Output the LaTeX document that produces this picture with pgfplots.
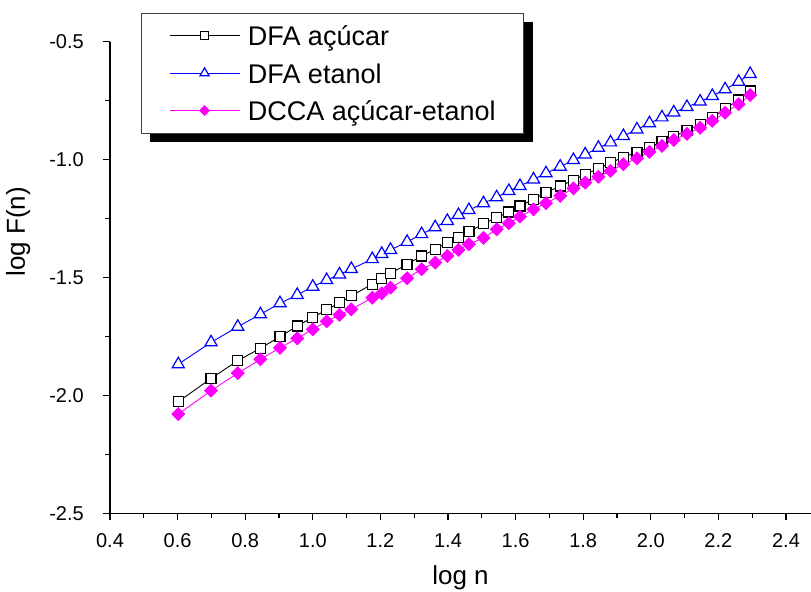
\documentclass[border=0pt]{standalone}
\usepackage{fontspec}
\setmainfont{Liberation Sans}
\usepackage{pgfplots}
\usepackage{pgfplotstable}
\pgfplotsset{compat=1.18}
\pgfdeclarelayer{background}
\pgfsetlayers{background,main}
\definecolor{ogblue}{RGB}{0,0,255}
\definecolor{ogmag}{RGB}{255,0,255}

\pgfplotstableread{
x      dfaa    dfae    dcca
0.602  -2.027  -1.868  -2.079
0.699  -1.928  -1.775  -1.980
0.778  -1.853  -1.709  -1.906
0.845  -1.800  -1.656  -1.847
0.903  -1.751  -1.609  -1.798
0.954  -1.706  -1.574  -1.758
1.000  -1.669  -1.539  -1.720
1.041  -1.637  -1.511  -1.686
1.079  -1.607  -1.487  -1.659
1.114  -1.578  -1.464  -1.635
1.176  -1.528  -1.422  -1.586
1.204  -1.505  -1.400  -1.567
1.230  -1.482  -1.383  -1.543
1.279  -1.444  -1.349  -1.503
1.322  -1.409  -1.316  -1.465
1.362  -1.380  -1.287  -1.437
1.398  -1.352  -1.260  -1.409
1.431  -1.330  -1.235  -1.383
1.462  -1.306  -1.214  -1.359
1.505  -1.272  -1.185  -1.332
1.544  -1.246  -1.160  -1.296
1.580  -1.222  -1.133  -1.270
1.613  -1.197  -1.112  -1.242
1.653  -1.168  -1.084  -1.211
1.690  -1.140  -1.058  -1.185
1.732  -1.112  -1.030  -1.154
1.771  -1.087  -1.002  -1.122
1.806  -1.062  -0.978  -1.098
1.845  -1.039  -0.950  -1.073
1.881  -1.013  -0.927  -1.048
1.919  -0.990  -0.900  -1.020
1.959  -0.969  -0.872  -0.995
1.996  -0.948  -0.846  -0.967
2.033  -0.924  -0.821  -0.942
2.068  -0.901  -0.800  -0.917
2.107  -0.877  -0.777  -0.891
2.146  -0.850  -0.754  -0.865
2.182  -0.821  -0.730  -0.836
2.220  -0.785  -0.702  -0.801
2.260  -0.747  -0.670  -0.765
2.294  -0.709  -0.637  -0.726
}\datatable

\begin{document}
\begin{tikzpicture}
\begin{axis}[
  at={(0,0)}, anchor=south west,
  scale only axis, width=701bp, height=471.6bp,
  xmin=0.4, xmax=2.474, ymin=-2.5, ymax=-0.5,
  axis x line=bottom, axis y line=left,
  axis line style={-, line width=1.3bp, black},
  x axis line style={-}, y axis line style={-},
  xtick={0.4,0.6,0.8,1.0,1.2,1.4,1.6,1.8,2.0,2.2,2.4},
  xticklabels={0.4,0.6,0.8,1.0,1.2,1.4,1.6,1.8,2.0,2.2,2.4},
  minor xtick={0.5,0.7,0.9,1.1,1.3,1.5,1.7,1.9,2.1,2.3},
  ytick={-2.5,-2.0,-1.5,-1.0,-0.5},
  yticklabels={-2.5,-2.0,-1.5,-1.0,-0.5},
  minor ytick={-2.25,-1.75,-1.25,-0.75},
  tick align=outside,
  major tick length=7bp, minor tick length=4.5bp,
  every tick/.style={black, line width=1.2bp},
  ticklabel style={font=\fontsize{20bp}{24bp}\selectfont, inner sep=0pt},
  xticklabel style={anchor=north, yshift=-13bp},
  yticklabel style={anchor=east, xshift=-19bp},
  xlabel={log n},
  ylabel={log F(n)},
  label style={font=\fontsize{26bp}{30bp}\selectfont},
  xlabel style={at={(axis description cs:0.5,0)}, anchor=center, yshift=-64.7bp},
  ylabel style={at={(axis description cs:-0.131,0.597)}, anchor=center},
  clip=false,
  legend image code/.code={\draw[mark repeat=2,mark phase=2,#1,every mark/.append style={scale=0.75}] plot coordinates {(0bp,0bp) (35bp,0bp) (70bp,0bp)};},
  legend style={name=leg, at={(axis description cs:0.0438,1.0615)}, anchor=north west,
    draw=black!75, line width=0.8bp, fill=white,
    font=\fontsize{27bp}{30bp}\selectfont,
    inner xsep=28bp, inner ysep=10bp, row sep=12.5bp, column sep=8bp,
    cells={anchor=west},
    nodes={inner sep=0pt, text height=22.5bp, text depth=2.5bp}},
]
\addplot[black, line width=0.9bp, mark=square*, mark size=5bp,
  mark options={fill=white, draw=black, line width=1.2bp, solid}]
  table[x=x, y=dfaa] {\datatable};
\addlegendentry{DFA açúcar}
\addplot[ogblue, line width=0.9bp, mark=triangle*, mark size=7bp,
  mark options={fill=white, draw=ogblue, line width=1.2bp, solid}]
  table[x=x, y=dfae] {\datatable};
\addlegendentry{DFA etanol}
\addplot[ogmag, line width=0.9bp, mark=square*, mark size=4.5bp,
  mark options={fill=ogmag, draw=ogmag, rotate=45, solid}]
  table[x=x, y=dcca] {\datatable};
\addlegendentry{DCCA açúcar-etanol}
\end{axis}
\begin{pgfonlayer}{background}
\fill[black] ([xshift=9bp,yshift=-9bp]leg.south west) rectangle ([xshift=9bp,yshift=-9bp]leg.north east);
\end{pgfonlayer}
\pgfresetboundingbox
\path[use as bounding box] (-110bp,-78.7bp) rectangle (701bp,513.3bp);
\end{tikzpicture}
\end{document}
